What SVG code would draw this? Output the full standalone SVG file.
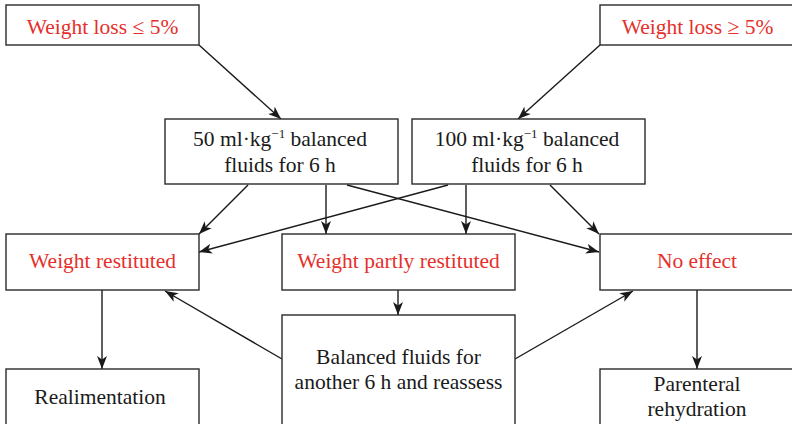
<svg xmlns="http://www.w3.org/2000/svg" width="792" height="424" viewBox="0 0 792 424">
<style>
.box{fill:#fff;stroke:#2a2a2a;stroke-width:1.4}
.t{font-family:"Liberation Serif","Times New Roman",serif;font-size:21.5px;text-anchor:middle}
.red{fill:#e5302b}
.blk{fill:#1a1a1a}
.sup{font-size:13px}
.c{fill:none;stroke:#1a1a1a;stroke-width:1.4;marker-end:url(#ah)}
</style>
<defs>
<marker id="ah" markerUnits="userSpaceOnUse" markerWidth="14" markerHeight="10" refX="13" refY="5" orient="auto" viewBox="0 0 14 10">
<path d="M0,0 L13,5 L0,10 L3.5,5 z" fill="#1a1a1a"/>
</marker>
</defs>
<rect width="792" height="424" fill="#fff"/>
<g id="connectors">
<line class="c" x1="199" y1="45" x2="281" y2="119"/>
<line class="c" x1="600" y1="45" x2="518" y2="119"/>
<line class="c" x1="248" y1="185" x2="199" y2="234"/>
<line class="c" x1="326" y1="185" x2="326" y2="234"/>
<line class="c" x1="347" y1="185" x2="599" y2="252"/>
<line class="c" x1="448" y1="185" x2="199" y2="252"/>
<line class="c" x1="466" y1="185" x2="466" y2="234"/>
<line class="c" x1="550" y1="185" x2="599" y2="234"/>
<line class="c" x1="398" y1="290" x2="398" y2="315"/>
<line class="c" x1="282" y1="359" x2="165" y2="291"/>
<line class="c" x1="515" y1="359" x2="633" y2="291"/>
<line class="c" x1="102" y1="290" x2="102" y2="369"/>
<line class="c" x1="697" y1="290" x2="697" y2="369"/>
</g>
<g id="n-loss-le">
<rect class="box" x="6" y="5" width="193" height="40"/>
<text class="t red" x="102.5" y="34">Weight loss ≤ 5%</text>
</g>
<g id="n-loss-ge">
<rect class="box" x="600" y="5" width="196" height="40"/>
<text class="t red" x="697.5" y="34">Weight loss ≥ 5%</text>
</g>
<g id="n-50">
<rect class="box" x="165" y="119" width="233" height="65"/>
<text class="t blk" x="280" y="146">50 ml·kg<tspan class="sup" dy="-8">−1</tspan><tspan dy="8"> balanced</tspan></text>
<text class="t blk" x="280" y="172">fluids for 6 h</text>
</g>
<g id="n-100">
<rect class="box" x="412" y="119" width="233" height="65"/>
<text class="t blk" x="527" y="146">100 ml·kg<tspan class="sup" dy="-8">−1</tspan><tspan dy="8"> balanced</tspan></text>
<text class="t blk" x="527" y="172">fluids for 6 h</text>
</g>
<g id="n-restituted">
<rect class="box" x="6" y="234" width="193" height="56"/>
<text class="t red" x="102.5" y="268">Weight restituted</text>
</g>
<g id="n-partly">
<rect class="box" x="282" y="234" width="233" height="56"/>
<text class="t red" x="398.5" y="268">Weight partly restituted</text>
</g>
<g id="n-noeffect">
<rect class="box" x="600" y="234" width="196" height="56"/>
<text class="t red" x="697" y="268">No effect</text>
</g>
<g id="n-balanced">
<rect class="box" x="282" y="315" width="233" height="115"/>
<text class="t blk" x="398.5" y="364">Balanced fluids for</text>
<text class="t blk" x="398.5" y="389">another 6 h and reassess</text>
</g>
<g id="n-realimentation">
<rect class="box" x="6" y="369" width="193" height="60"/>
<text class="t blk" x="100" y="404">Realimentation</text>
</g>
<g id="n-parenteral">
<rect class="box" x="600" y="369" width="196" height="60"/>
<text class="t blk" x="697" y="391">Parenteral</text>
<text class="t blk" x="697" y="416">rehydration</text>
</g>
</svg>
